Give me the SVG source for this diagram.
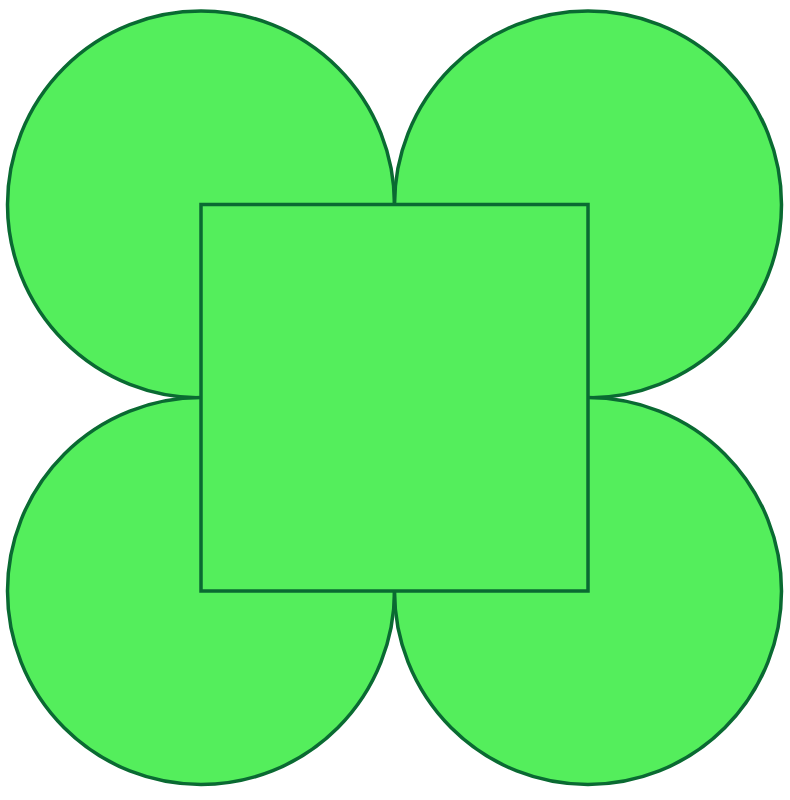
<svg xmlns="http://www.w3.org/2000/svg" width="790" height="800" viewBox="0 0 790 800">
<style>
.s{fill:#54EE5C;stroke:#0A6A32;stroke-width:3.5}
</style>
<rect width="790" height="800" fill="#ffffff"/>
<g id="circle-tl"><circle class="s" cx="201" cy="204.5" r="193.5"/></g>
<g id="circle-tr"><circle class="s" cx="588" cy="204.5" r="193.5"/></g>
<g id="circle-bl"><circle class="s" cx="201" cy="591" r="193.5"/></g>
<g id="circle-br"><circle class="s" cx="588" cy="591" r="193.5"/></g>
<g id="square"><rect class="s" x="201" y="204.5" width="387" height="386.5"/></g>
</svg>
